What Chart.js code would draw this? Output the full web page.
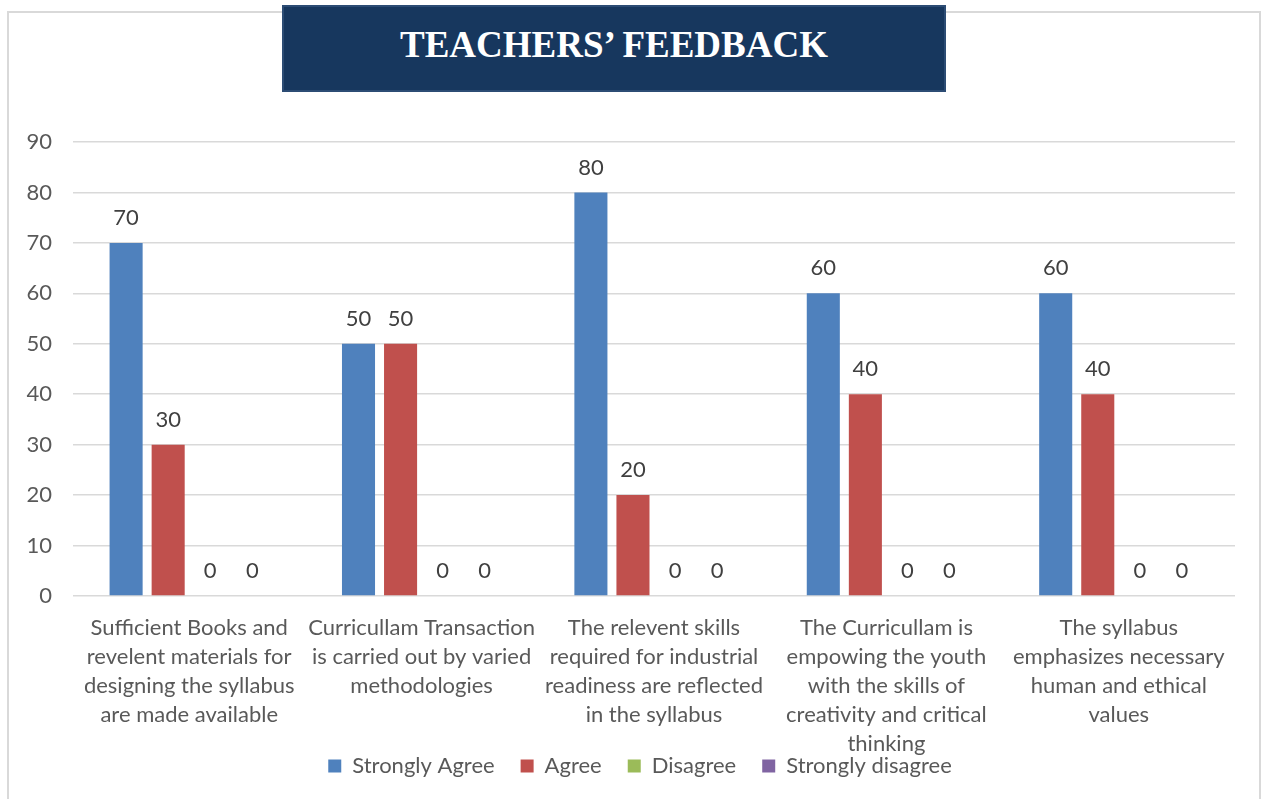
<!DOCTYPE html>
<html>
<head>
<meta charset="utf-8">
<script src="https://cdn.jsdelivr.net/npm/chart.js@4.4.1/dist/chart.umd.min.js"></script>
<style>
  html, body { margin: 0; padding: 0; background: #ffffff; }
  body { width: 1264px; height: 799px; position: relative; overflow: hidden; }
  #frame { position: absolute; left: 7px; top: 11px; width: 1254px; height: 820px; border: 2px solid #d9d9d9; box-sizing: border-box; }
  #wrap { position: absolute; left: 0; top: 0; width: 1264px; height: 799px; }
  #titlebox { position: absolute; left: 282px; top: 5px; width: 664px; height: 87px; background: #17375e;
    border: 2px solid #2c4c74; box-sizing: border-box; color: #ffffff; font-family: "Liberation Serif", "Times New Roman", serif;
    font-weight: bold; font-size: 37px; text-align: center; line-height: 76px; }
</style>
</head>
<body>
<div id="frame"></div>
<div id="wrap"><canvas id="c" width="1264" height="799"></canvas></div>
<div id="titlebox">TEACHERS’ FEEDBACK</div>
<script>
const categories = [
  ["Sufficient Books and", "revelent materials for", "designing the syllabus", "are made available"],
  ["Curricullam Transaction", "is carried out by varied", "methodologies"],
  ["The relevent skills", "required for industrial", "readiness are reflected", "in the syllabus"],
  ["The Curricullam is", "empowing the youth", "with the skills of", "creativity and critical", "thinking"],
  ["The syllabus", "emphasizes necessary", "human and ethical", "values"]
];
const stronglyAgree = [70, 50, 80, 60, 60];
const agree = [30, 50, 20, 40, 40];
const disagree = [0, 0, 0, 0, 0];
const stronglyDisagree = [0, 0, 0, 0, 0];
const yTicks = [0, 10, 20, 30, 40, 50, 60, 70, 80, 90];

const FONT = "Lato, 'Open Sans', sans-serif";
const FS = 22;

const valueLabels = {
  id: 'valueLabels',
  afterDatasetsDraw(chart) {
    const ctx = chart.ctx;
    ctx.save();
    ctx.font = FS + "px " + FONT;
    ctx.fillStyle = '#404040';
    ctx.textAlign = 'center';
    ctx.textBaseline = 'middle';
    chart.data.datasets.forEach((ds, i) => {
      const meta = chart.getDatasetMeta(i);
      meta.data.forEach((el, j) => {
        ctx.fillText(String(ds.data[j]), el.x, el.y - 25);
      });
    });
    ctx.restore();
  }
};

// Pull the legend up so it sits just under the last wrapped category line (as in the original)
const legendShift = {
  id: 'legendShift',
  afterLayout(chart) {
    if (chart.legend) { chart.legend.top -= 32; chart.legend.bottom -= 32; }
  }
};

const barOpts = { barPercentage: 0.786, categoryPercentage: 0.724, borderWidth: 0 };

new Chart(document.getElementById('c'), {
  type: 'bar',
  data: {
    labels: categories,
    datasets: [
      Object.assign({ label: 'Strongly Agree', data: stronglyAgree, backgroundColor: '#4f81bd' }, barOpts),
      Object.assign({ label: 'Agree', data: agree, backgroundColor: '#c0504d' }, barOpts),
      Object.assign({ label: 'Disagree', data: disagree, backgroundColor: '#9bbb59' }, barOpts),
      Object.assign({ label: 'Strongly disagree', data: stronglyDisagree, backgroundColor: '#8064a2' }, barOpts)
    ]
  },
  options: {
    responsive: false,
    animation: false,
    layout: { padding: { left: 16, right: 0, top: 142, bottom: -20 } },
    plugins: {
      title: { display: false },
      tooltip: { enabled: false },
      legend: {
        position: 'bottom',
        labels: {
          boxWidth: 13, boxHeight: 13, padding: 26,
          color: '#595959',
          font: { family: FONT, size: FS }
        }
      }
    },
    scales: {
      x: {
        grid: { display: false, drawTicks: false },
        border: { display: false },
        ticks: {
          color: '#595959', autoSkip: false, maxRotation: 0, minRotation: 0, padding: 17,
          font: { family: FONT, size: FS, lineHeight: 29 / FS }
        },
        afterFit(s) { s.height = 165; }
      },
      y: {
        min: 0, max: 90,
        afterBuildTicks(s) { s.ticks = yTicks.map(v => ({ value: v })); },
        grid: { color: '#d9d9d9', lineWidth: 1.5, drawTicks: false },
        border: { display: false },
        ticks: { color: '#595959', padding: 21, font: { family: FONT, size: FS } },
        afterFit(s) { s.width = 57; }
      },
      yRight: {
        position: 'right', type: 'linear', display: true,
        grid: { display: false, drawTicks: false },
        border: { display: false },
        ticks: { display: false },
        afterFit(s) { s.width = 29; }
      }
    }
  },
  plugins: [valueLabels, legendShift]
});
</script>
</body>
</html>
